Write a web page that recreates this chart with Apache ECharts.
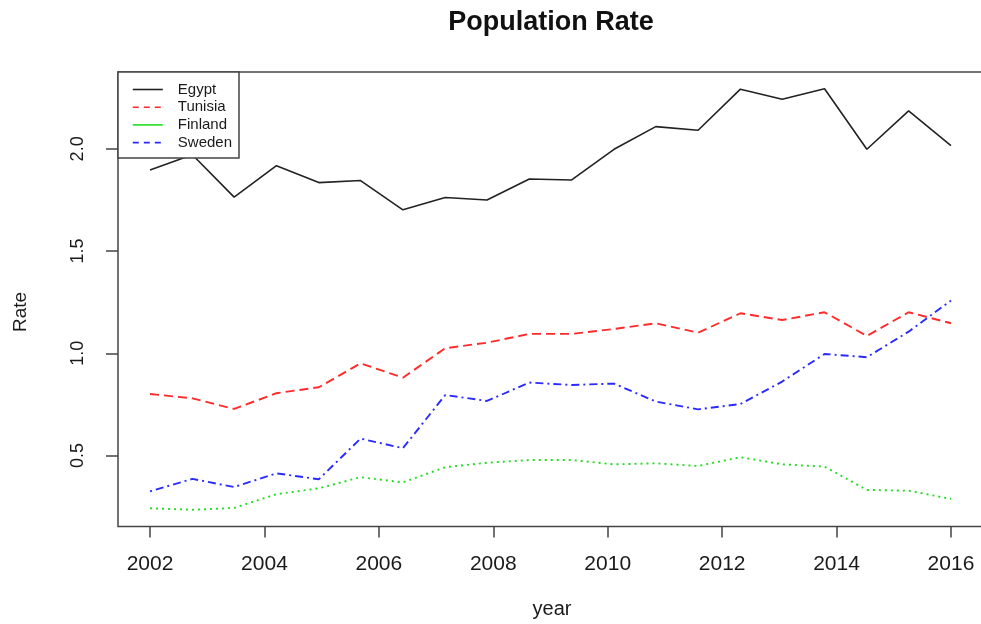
<!DOCTYPE html>
<html>
<head>
<meta charset="utf-8">
<title>Population Rate</title>
<script src="https://cdn.jsdelivr.net/npm/echarts@6/dist/echarts.min.js"></script>
<style>
  html, body { margin: 0; padding: 0; background: #ffffff; }
  #chart { width: 981px; height: 624px; }
</style>
</head>
<body>
<div id="chart"></div>
<script>
// Sample positions along the year axis (20 samples, 2002 to 2016)
const years = [2002, 2002.74, 2003.47, 2004.21, 2004.95, 2005.68, 2006.42, 2007.16, 2007.89, 2008.63,
               2009.37, 2010.11, 2010.84, 2011.58, 2012.32, 2013.05, 2013.79, 2014.53, 2015.26, 2016];

const egypt   = [1.897, 1.971, 1.764, 1.918, 1.835, 1.845, 1.702, 1.762, 1.750, 1.853,
                 1.848, 1.998, 2.109, 2.091, 2.292, 2.243, 2.294, 1.998, 2.186, 2.016];
const tunisia = [0.801, 0.780, 0.728, 0.805, 0.834, 0.951, 0.881, 1.025, 1.052, 1.095,
                 1.095, 1.119, 1.147, 1.101, 1.196, 1.163, 1.201, 1.085, 1.201, 1.147];
const finland = [0.242, 0.235, 0.244, 0.311, 0.340, 0.394, 0.369, 0.443, 0.465, 0.478,
                 0.478, 0.457, 0.462, 0.449, 0.492, 0.457, 0.446, 0.332, 0.328, 0.288];
const sweden  = [0.325, 0.386, 0.346, 0.413, 0.384, 0.583, 0.536, 0.796, 0.767, 0.857,
                 0.845, 0.852, 0.764, 0.726, 0.752, 0.862, 0.997, 0.981, 1.106, 1.258];

const xTicks = [2002, 2004, 2006, 2008, 2010, 2012, 2014, 2016];
const yTicks = [0.5, 1.0, 1.5, 2.0];

const FONT = '"Liberation Sans", Arial, Helvetica, sans-serif';

const pairs = arr => arr.map((v, i) => [years[i], v]);

const chart = echarts.init(document.getElementById('chart'), null, { renderer: 'canvas' });

const seriesDefs = [
  { name: 'Egypt',   data: egypt,   color: '#222222', type: 'solid',       width: 1.6 },
  { name: 'Tunisia', data: tunisia, color: '#ff2a2a', type: [9, 5],        width: 1.9 },
  { name: 'Finland', data: finland, color: '#22dd22', type: [2, 4],        width: 1.9 },
  { name: 'Sweden',  data: sweden,  color: '#2a2aff', type: [2, 4, 8, 4],  width: 1.9 }
];

// legend keys use the plain solid / dashed pattern
const legendDash = { Egypt: 'solid', Tunisia: [6, 5], Finland: 'solid', Sweden: [6, 5] };

chart.setOption({
  animation: false,
  backgroundColor: '#ffffff',
  grid: {
    left: 118, top: 72, width: 865, height: 454.5,
    outerBoundsMode: 'none',
    containLabel: false,
    show: true, borderColor: '#444444', borderWidth: 1.5,
    backgroundColor: 'transparent'
  },
  xAxis: {
    type: 'value',
    min: 2001.44, max: 2016.56,
    splitLine: { show: false },
    axisLine: { show: false },
    axisTick: { show: true, length: 11, lineStyle: { color: '#444444', width: 1.5 }, customValues: xTicks },
    axisLabel: {
      customValues: xTicks,
      margin: 27,
      color: '#1a1a1a', fontSize: 21, fontFamily: FONT,
      formatter: v => String(Math.round(v))
    }
  },
  yAxis: {
    type: 'value',
    min: 0.153, max: 2.376,
    splitLine: { show: false },
    axisLine: { show: false },
    axisTick: { show: true, length: 12, lineStyle: { color: '#444444', width: 1.5 }, customValues: yTicks },
    axisLabel: {
      customValues: yTicks,
      rotate: 90,
      margin: 31,
      color: '#1a1a1a', fontSize: 18, fontFamily: FONT,
      formatter: v => v.toFixed(1)
    }
  },
  legend: {
    show: true,
    orient: 'vertical',
    left: 118, top: 72,
    padding: [10, 7, 8, 14],
    itemWidth: 30, itemHeight: 14, itemGap: 2.7,
    borderColor: '#444444', borderWidth: 1.5,
    backgroundColor: '#ffffff',
    textStyle: { fontSize: 15, fontFamily: FONT, color: '#1a1a1a', padding: [0, 0, 0, 10] },
    data: seriesDefs.map(s => ({
      name: s.name,
      itemStyle: { opacity: 0 },
      lineStyle: { color: s.color, width: 1.6, type: legendDash[s.name] }
    }))
  },
  series: seriesDefs.map(s => ({
    name: s.name,
    type: 'line',
    data: pairs(s.data),
    symbol: 'none',
    lineStyle: { color: s.color, width: s.width, type: s.type },
    itemStyle: { color: s.color },
    emphasis: { disabled: true },
    z: 2
  })),
  graphic: [
    {
      type: 'text', x: 551, y: 23,
      style: { text: 'Population Rate', fill: '#111111', font: 'bold 27px ' + FONT, align: 'center', verticalAlign: 'middle' }
    },
    {
      type: 'text', x: 552, y: 609,
      style: { text: 'year', fill: '#1a1a1a', font: '20px ' + FONT, align: 'center', verticalAlign: 'middle' }
    },
    {
      type: 'text', x: 21, y: 312, rotation: Math.PI / 2,
      style: { text: 'Rate', fill: '#1a1a1a', font: '19px ' + FONT, align: 'center', verticalAlign: 'middle' }
    }
  ]
});
</script>
</body>
</html>
